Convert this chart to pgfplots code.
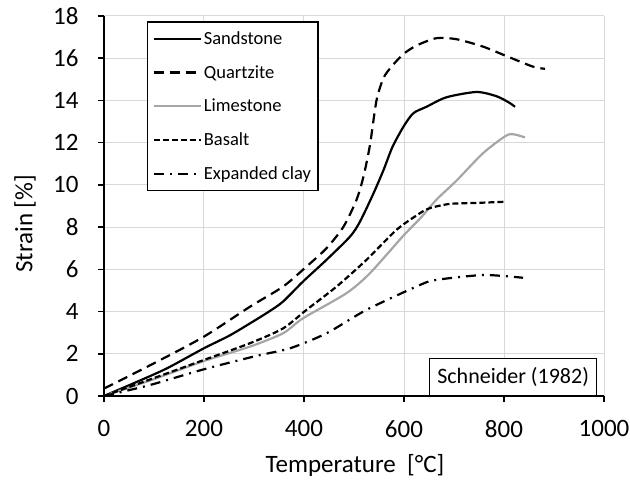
\documentclass[border=0pt]{standalone}
\usepackage{fontspec}
\setmainfont{Carlito}
\usepackage{pgfplots}
\pgfplotsset{compat=1.18}
\definecolor{gridgray}{HTML}{D9D9D9}
\definecolor{limegray}{HTML}{A6A6A6}
\begin{document}
\begin{tikzpicture}
\useasboundingbox (-104pt,-85pt) rectangle (526pt,396pt);
\begin{axis}[
 at={(0pt,0pt)}, anchor=south west,
 scale only axis, width=500pt, height=380pt,
 xmin=0,xmax=1000,ymin=0,ymax=18,
 xtick={0,200,...,1000}, ytick={0,2,...,18},
 axis x line*=bottom, axis y line*=left,
 axis line style={line width=1.8pt, black, -},
 grid=major, grid style={gridgray, line width=1pt},
 tick align=outside, major tick length=6pt,
 tick style={black, line width=1.5pt},
 tick label style={font=\fontsize{25}{30}\selectfont},
 xticklabel style={yshift=-15pt},
 yticklabel style={xshift=-16pt},
 /pgf/number format/assume math mode=true,
 /pgf/number format/1000 sep={},
 xlabel={Temperature\ \ [°C]}, ylabel={Strain [\%]},
 label style={font=\fontsize{25}{30}\selectfont},
 xlabel style={at={(axis description cs:0.502,-0.1816)}, anchor=center},
 ylabel style={at={(axis description cs:-0.158,0.453)}, anchor=center},
 legend cell align=left,
 legend style={at={(axis cs:86,17.74)}, anchor=north west, draw=black, line width=1.3pt, fill=white,
   font=\fontsize{18.5}{22}\selectfont, row sep=15.5pt, inner xsep=5pt, inner ysep=7.5pt},
 legend image code/.code={\draw[#1] (0pt,0pt) -- (47pt,0pt);},
 every axis plot/.append style={line width=2.2pt, smooth, tension=0.45},
]
\addplot[black] coordinates {(0,0) (59,0.6) (125,1.3) (199,2.25) (250,2.85) (292,3.44) (330,4.0) (358,4.47) (398,5.42) (445,6.45) (492,7.55) (512,8.26) (539,9.6) (559,10.7) (577,11.8) (600,12.8) (619,13.4) (645,13.7) (685,14.15) (745,14.4) (785,14.2) (810,13.9) (822,13.7)};
\addlegendentry{Sandstone}
\addplot[black, dash pattern=on 10pt off 6pt] coordinates {(0,0.35) (100,1.55) (199,2.8) (292,4.23) (358,5.18) (405,6.13) (445,7.0) (479,8.02) (505,9.29) (519,10.4) (532,11.9) (545,14.0) (559,15.06) (575,15.6) (599,16.2) (625,16.6) (665,16.95) (705,16.9) (758,16.55) (805,16.1) (858,15.6) (882,15.5)};
\addlegendentry{Quartzite}
\addplot[limegray] coordinates {(0,0) (100,0.8) (199,1.65) (292,2.34) (358,2.97) (398,3.68) (485,4.87) (532,5.82) (599,7.6) (632,8.4) (665,9.3) (705,10.2) (758,11.5) (802,12.3) (818,12.4) (842,12.25)};
\addlegendentry{Limestone}
\addplot[black, dash pattern=on 6pt off 3pt] coordinates {(0,0) (100,0.85) (199,1.7) (292,2.5) (358,3.2) (405,4.08) (465,5.18) (525,6.45) (585,7.87) (632,8.66) (652,8.9) (692,9.1) (750,9.15) (801,9.2)};
\addlegendentry{Basalt}
\addplot[black, dash pattern=on 10pt off 6pt on 2pt off 6pt] coordinates {(0,0) (92,0.52) (199,1.26) (305,1.9) (372,2.26) (445,2.97) (525,4.08) (632,5.26) (665,5.5) (759,5.73) (838,5.6)};
\addlegendentry{Expanded clay}
\node[draw=black, line width=1.3pt, fill=white, anchor=south west, minimum width=167pt, minimum height=37pt, inner sep=0pt, font=\fontsize{22}{26}\selectfont] at (axis cs:650,0) {Schneider (1982)};
\end{axis}
\end{tikzpicture}
\end{document}
